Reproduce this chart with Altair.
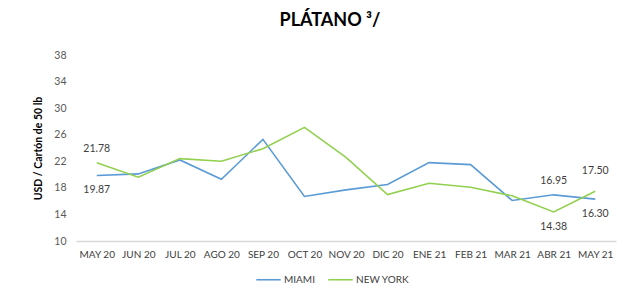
import altair as alt
import pandas as pd

months = ["MAY 20", "JUN 20", "JUL 20", "AGO 20", "SEP 20", "OCT 20", "NOV 20",
          "DIC 20", "ENE 21", "FEB 21", "MAR 21", "ABR 21", "MAY 21"]
miami = [19.87, 20.1, 22.2, 19.3, 25.3, 16.7, 17.7, 18.5, 21.8, 21.5, 16.1, 16.95, 16.30]
new_york = [21.78, 19.6, 22.4, 22.0, 23.9, 27.1, 22.6, 17.0, 18.7, 18.1, 16.8, 14.38, 17.50]
y_ticks = [10, 14, 18, 22, 26, 30, 34, 38]

series_names = ["MIAMI", "NEW YORK"]
colors = ["#5B9BD5", "#92D050"]

rows = []
for i, m in enumerate(months):
    rows.append({"mes": m, "serie": "MIAMI", "valor": miami[i], "orden": i})
    rows.append({"mes": m, "serie": "NEW YORK", "valor": new_york[i], "orden": i})
df = pd.DataFrame(rows)

# labelled points: (month, series)
label_above = [("MAY 20", "NEW YORK"), ("ABR 21", "MIAMI")]
label_above_far = [("MAY 21", "NEW YORK")]
label_below = [("MAY 20", "MIAMI"), ("ABR 21", "NEW YORK"), ("MAY 21", "MIAMI")]


def pick(pairs):
    sub = pd.concat([df[(df.mes == m) & (df.serie == s)] for m, s in pairs])
    sub = sub.copy()
    sub["txt"] = sub["valor"].map(lambda v: f"{v:.2f}")
    return sub


FONT = "Lato"
x_enc = alt.X("mes:N", sort=months, title=None,
              scale=alt.Scale(paddingInner=0, paddingOuter=0.5),
              axis=alt.Axis(labelAngle=0, ticks=False, domainColor="#D9D9D9",
                            domainWidth=1.5, labelColor="#404040", labelFontSize=10,
                            labelFont=FONT, labelPadding=8, grid=False))
y_enc = alt.Y("valor:Q", title="USD / Cartón de 50 lb",
              scale=alt.Scale(domain=[10, 38], nice=False, zero=False),
              axis=alt.Axis(values=y_ticks, domain=False, ticks=False,
                            grid=False, labelColor="#595959", labelFontSize=10.5,
                            labelFont=FONT, labelPadding=10, labelOverlap=False,
                            titleFont=FONT, titleFontSize=10.5, titleFontWeight="bold",
                            titleColor="#000000", titlePadding=10))

lines = alt.Chart(df).mark_line(strokeWidth=1.6).encode(
    x=x_enc, y=y_enc,
    color=alt.Color("serie:N", scale=alt.Scale(domain=series_names, range=colors),
                    legend=alt.Legend(title=None, orient="none", direction="horizontal",
                                      legendX=179, legendY=211, symbolType="stroke",
                                      symbolSize=600, symbolStrokeWidth=1.6,
                                      labelFont=FONT, labelFontSize=10,
                                      labelColor="#404040", labelOffset=2,
                                      columnPadding=10)),
    order="orden:Q",
)


def labels(data, dy):
    return alt.Chart(data).mark_text(font=FONT, fontSize=10.5, color="#404040", dy=dy).encode(
        x=x_enc, y=y_enc, text="txt:N")


chart = alt.layer(
    lines,
    labels(pick(label_above), -14),
    labels(pick(label_above_far), -20),
    labels(pick(label_below), 15),
).properties(
    width=540, height=186,
    padding={"left": 68, "top": 47, "right": 15, "bottom": 60},
    autosize=alt.AutoSizeParams(type="none"),
    title=alt.Title("PLÁTANO ³/", font=FONT, fontSize=18, fontWeight="bold",
                    color="#000000", anchor="middle", dx=-16, offset=20),
).configure_view(stroke=None)

chart.save("out.html", embed_options={"renderer": "svg", "actions": False})
